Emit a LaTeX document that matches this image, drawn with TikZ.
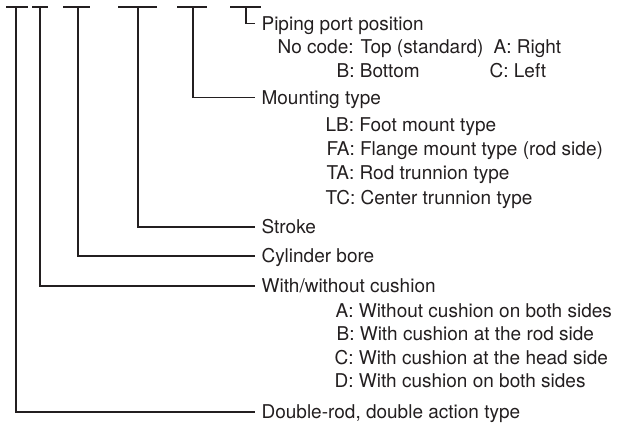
\documentclass[tikz,border=0pt]{standalone}
\usepackage{fontspec}
\setmainfont{TeX Gyre Heros}
\definecolor{ink}{RGB}{35,31,32}

\begin{document}
\begin{tikzpicture}[x=1pt,y=-1pt,line width=1.2pt,color=ink,
	every node/.style={font=\fontsize{19}{24}\selectfont,text height=13.6pt,text depth=0pt,inner ysep=0pt,anchor=west},
	lbl/.style={inner xsep=6pt},
	opt/.style={inner xsep=0pt}]
	\useasboundingbox (0,0) rectangle (634,423);
	\draw (6,7) -- (28,7);
	\draw (32,7) -- (48,7);
	\draw (63,7) -- (90,7);
	\draw (118,7) -- (157,7);
	\draw (177,7) -- (207,7);
	\draw (230,7) -- (261,7);
	\coordinate (rodbar) at (16,7);
	\coordinate (cushbar) at (40,7);
	\coordinate (borebar) at (78,7);
	\coordinate (strokebar) at (138,7);
	\coordinate (mountbar) at (193,7);
	\coordinate (portbar) at (246,7);
	\node[lbl] (port) at (255,23.5) {Piping port position};
	\node[opt] (port-n) at (277,47) {No code: Top (standard)};
	\node[opt] (port-a) at (493,47) {A: Right};
	\node[opt] (port-b) at (336,71) {B: Bottom};
	\node[opt] (port-c) at (489,71) {C: Left};
	\node[lbl] (mount) at (255,97.5) {Mounting type};
	\node[opt] (mount-lb) at (325,125) {LB: Foot mount type};
	\node[opt] (mount-fa) at (326,149) {FA: Flange mount type (rod side)};
	\node[opt] (mount-ta) at (326,173) {TA: Rod trunnion type};
	\node[opt] (mount-tc) at (325,198) {TC: Center trunnion type};
	\node[lbl] (stroke) at (255,227) {Stroke};
	\node[lbl] (bore) at (255,256) {Cylinder bore};
	\node[lbl] (cushion) at (255,286) {With/without cushion};
	\node[opt] (cushion-a) at (335,311) {A: Without cushion on both sides};
	\node[opt] (cushion-b) at (336,334) {B: With cushion at the rod side};
	\node[opt] (cushion-c) at (334,358) {C: With cushion at the head side};
	\node[opt] (cushion-d) at (334,381) {D: With cushion on both sides};
	\node[lbl] (rodtype) at (255,412) {Double-rod, double action type};
	\draw (portbar) |- (port.west);
	\draw (mountbar) |- (mount.west);
	\draw (strokebar) |- (stroke.west);
	\draw (borebar) |- (bore.west);
	\draw (cushbar) |- (cushion.west);
	\draw (rodbar) |- (rodtype.west);
\end{tikzpicture}
\end{document}
